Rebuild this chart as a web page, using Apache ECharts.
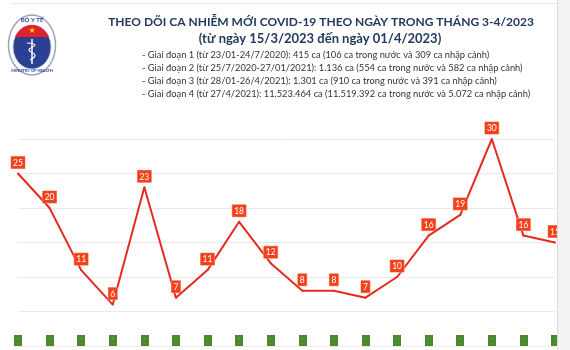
<!DOCTYPE html>
<html>
<head>
<meta charset="utf-8">
<script src="https://cdn.jsdelivr.net/npm/echarts@6/dist/echarts.min.js"></script>
<style>
html,body{margin:0;padding:0;background:#fff;}
#chart{width:570px;height:350px;}
</style>
</head>
<body>
<div id="chart"></div>
<script>
var dates = ['15/3','16/3','17/3','18/3','19/3','20/3','21/3','22/3','23/3','24/3','25/3','26/3','27/3','28/3','29/3','30/3','31/3','01/4'];
var cases = [25, 20, 11, 6, 23, 7, 11, 18, 12, 8, 8, 7, 10, 16, 19, 30, 16, 15];
var titleText = 'THEO DÕI CA NHIỄM MỚI COVID-19 THEO NGÀY TRONG THÁNG 3-4/2023';
var subtitleText = '(từ ngày 15/3/2023 đến ngày 01/4/2023)';
var stageLines = [
  '- Giai đoạn 1 (từ 23/01-24/7/2020): 415 ca (106 ca trong nước và 309 ca nhập cảnh)',
  '- Giai đoạn 2 (từ 25/7/2020-27/01/2021): 1.136 ca (554 ca trong nước và 582 ca nhập cảnh)',
  '- Giai đoạn 3 (từ 28/01-26/4/2021): 1.301 ca (910 ca trong nước và 391 ca nhập cảnh)',
  '- Giai đoạn 4 (từ 27/4/2021): 11.523.464 ca (11.519.392 ca trong nước và 5.072 ca nhập cảnh)'
];

var FONT = 'Lato';
var chart = echarts.init(document.getElementById('chart'), null, {renderer: 'canvas'});

function ellipsePts(cx, cy, rx, ry, a0, a1, n) {
  var pts = [];
  for (var i = 0; i <= n; i++) {
    var a = a0 + (a1 - a0) * i / n;
    pts.push([cx + rx * Math.cos(a), cy + ry * Math.sin(a)]);
  }
  return pts;
}
var capAngle = Math.asin((37 - 47) / 22);
var capPts = ellipsePts(32, 47, 19, 22, Math.PI - capAngle, 2 * Math.PI + capAngle, 30);

var graphics = [
  {type: 'line', z: 50, shape: {x1: 12, y1: 3.5, x2: 557, y2: 3.5}, style: {stroke: '#e6e6e6', lineWidth: 1}},
  {type: 'rect', z: 100, shape: {x: 557, y: 0, width: 13, height: 350}, style: {fill: '#f3f3f3'}},
  {type: 'line', z: 101, shape: {x1: 557.5, y1: 0, x2: 557.5, y2: 350}, style: {stroke: '#dcdcdc', lineWidth: 1}},
  {type: 'text', z: 50, style: {x: 321, y: 22, text: titleText, textAlign: 'center', textVerticalAlign: 'middle',
    font: 'bold 12px ' + FONT, fill: '#23395d'}},
  {type: 'text', z: 50, style: {x: 320, y: 39, text: subtitleText, textAlign: 'center', textVerticalAlign: 'middle',
    font: 'bold 13px ' + FONT, fill: '#23395d'}},
  {type: 'polygon', z: 50, shape: {points: ellipsePts(32, 45, 23.5, 30, 0, 2 * Math.PI, 60)},
    style: {fill: '#ffffff', stroke: '#9aa3c0', lineWidth: 1.5}},
  {type: 'polygon', z: 51, shape: {points: ellipsePts(32, 47, 19, 22, 0, 2 * Math.PI, 60)},
    style: {fill: '#2b3f93', stroke: '#c9cfe4', lineWidth: 1}},
  {type: 'polygon', z: 52, shape: {points: capPts}, style: {fill: '#e0202a'}},
  {type: 'text', z: 53, style: {x: 32, y: 31, text: '★', textAlign: 'center', textVerticalAlign: 'middle',
    font: '8px DejaVu Sans', fill: '#ffd21f'}},
  {type: 'line', z: 53, shape: {x1: 32, y1: 39, x2: 32, y2: 64}, style: {stroke: '#ffffff', lineWidth: 1.5}},
  {type: 'polyline', z: 53, shape: {points: [[27, 43], [35, 45], [29, 50], [35, 55], [30, 60]], smooth: 0.5},
    style: {fill: null, stroke: '#ffffff', lineWidth: 1.2}},
  {type: 'text', z: 53, style: {x: 32, y: 20, text: 'BỘ Y TẾ', textAlign: 'center', textVerticalAlign: 'middle',
    font: 'bold 6px ' + FONT, fill: '#2b3f93'}},
  {type: 'text', z: 53, style: {x: 32, y: 71, text: 'MINISTRY OF HEALTH', textAlign: 'center', textVerticalAlign: 'middle',
    font: 'bold 4px ' + FONT, fill: '#2b3f93'}}
];
var stageY = [55, 68, 81, 94];
stageLines.forEach(function (t, i) {
  graphics.push({type: 'text', z: 50, style: {x: 142, y: stageY[i], text: t, textAlign: 'left',
    textVerticalAlign: 'middle', font: '9.3px ' + FONT, fill: '#333333'}});
});

chart.setOption({
  animation: false,
  backgroundColor: '#ffffff',
  grid: {left: 18, right: 15, top: 139, bottom: 4, containLabel: false},
  xAxis: {
    type: 'category',
    data: dates,
    boundaryGap: false,
    axisLine: {show: true, lineStyle: {color: '#ececec', width: 1}},
    axisTick: {
      show: true,
      inside: true,
      interval: 0,
      length: 11,
      lineStyle: {color: '#4a8a2c', width: 8, cap: 'butt'}
    },
    splitLine: {show: false},
    axisLabel: {
      show: true,
      inside: true,
      interval: 0,
      margin: 5,
      formatter: function () { return '-'; },
      fontSize: 5,
      color: '#b9d6aa'
    }
  },
  yAxis: {
    type: 'value',
    min: 0,
    max: 30,
    interval: 5,
    axisLine: {show: false},
    axisTick: {show: false},
    axisLabel: {show: false},
    splitLine: {show: true, lineStyle: {color: '#eaeaea', width: 1}}
  },
  series: [{
    type: 'line',
    data: cases,
    symbol: 'circle',
    symbolSize: 2,
    itemStyle: {color: '#e52a1e'},
    lineStyle: {color: '#e52a1e', width: 2},
    label: {
      show: true,
      position: 'top',
      distance: 4,
      color: '#ffffff',
      fontFamily: FONT,
      fontSize: 8.5,
      backgroundColor: '#f2421c',
      borderColor: '#f7a08a',
      borderWidth: 0.5,
      padding: [2, 2, 1, 2]
    },
    z: 3
  }],
  graphic: graphics
});
</script>
</body>
</html>
